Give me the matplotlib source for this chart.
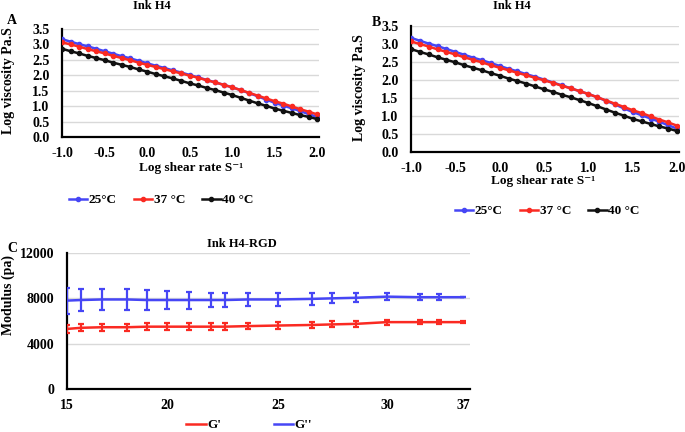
import numpy as np
import matplotlib
matplotlib.use("Agg")
import matplotlib.pyplot as plt
from matplotlib.lines import Line2D

# ---- data: viscosity curves (panels A and B share the same curves) ----
log_shear = [-1.0, -0.9, -0.8, -0.7, -0.6, -0.5, -0.4, -0.3, -0.2, -0.1, 0.0,
             0.1, 0.2, 0.3, 0.4, 0.5, 0.6, 0.7, 0.8, 0.9, 1.0,
             1.1, 1.2, 1.3, 1.4, 1.5, 1.6, 1.7, 1.8, 1.9, 2.0]
visc_25 = [3.17, 3.09, 3.01, 2.94, 2.86, 2.78, 2.70, 2.62, 2.55, 2.47, 2.39,
           2.31, 2.24, 2.16, 2.09, 2.01, 1.93, 1.85, 1.77, 1.69, 1.61,
           1.52, 1.42, 1.32, 1.21, 1.11, 1.02, 0.93, 0.84, 0.74, 0.65]
visc_37 = [3.07, 3.00, 2.93, 2.85, 2.78, 2.71, 2.63, 2.56, 2.49, 2.41, 2.34,
           2.27, 2.20, 2.13, 2.06, 1.99, 1.92, 1.84, 1.77, 1.69, 1.61,
           1.52, 1.43, 1.34, 1.25, 1.16, 1.08, 0.99, 0.90, 0.82, 0.73]
visc_40 = [2.86, 2.78, 2.71, 2.63, 2.56, 2.49, 2.41, 2.34, 2.27, 2.19, 2.12,
           2.04, 1.97, 1.90, 1.82, 1.74, 1.67, 1.59, 1.52, 1.44, 1.36,
           1.27, 1.18, 1.09, 1.01, 0.92, 0.85, 0.78, 0.71, 0.65, 0.58]
visc_labels = ["25°C", "37 °C", "40 °C"]

# ---- data: modulus vs temperature (panel C) ----
temp = [15, 15.7, 16.75, 18, 19, 20, 21, 22, 22.6, 23.65,
        25, 26.55, 27.5, 28.6, 30, 33, 34.8, 37]
g_prime = [5300, 5400, 5450, 5450, 5500, 5500, 5500, 5500, 5500, 5550,
           5600, 5650, 5700, 5750, 5900, 5900, 5900, 5900]
g_prime_err = [350, 300, 300, 300, 280, 280, 280, 280, 280, 270,
               270, 270, 270, 250, 230, 200, 180, 80]
g_dprime = [7800, 7850, 7900, 7900, 7850, 7850, 7850, 7850, 7850, 7900,
            7900, 7950, 8000, 8050, 8150, 8100, 8100, 8100]
g_dprime_err = [1150, 1000, 950, 900, 850, 800, 750, 650, 650, 600,
                550, 500, 450, 400, 300, 250, 250, 0]
temp_ticks = [15, 20, 25, 30, 37]

BLUE = "#4646f5"
RED = "#fa2a22"
BLACK = "#111111"
GRID = "#d9d9d9"
W, H = 685, 432
FS = 10

plt.rcParams["font.family"] = ["Liberation Serif", "DejaVu Serif"]
plt.rcParams["font.weight"] = "bold"
plt.rcParams["font.size"] = FS

fig = plt.figure(figsize=(W / 100, H / 100), dpi=100)


def px_axes(left, top, right, bottom):
    return fig.add_axes([left / W, 1 - bottom / H, (right - left) / W, (bottom - top) / H])


def px_text(x, y, s, **kw):
    fig.text(x / W, 1 - y / H, s, fontweight="bold", **kw)


def style(ax):
    for side in ("top", "right"):
        ax.spines[side].set_visible(False)
    for side in ("left", "bottom"):
        ax.spines[side].set_linewidth(1.6)
        ax.spines[side].set_color("black")
    ax.tick_params(axis="y", length=0, pad=9, labelsize=FS)
    ax.tick_params(axis="x", length=0, pad=7, labelsize=FS)
    ax.yaxis.grid(True, color=GRID, linewidth=1)
    ax.set_axisbelow(True)
    for lab in ax.get_xticklabels() + ax.get_yticklabels():
        lab.set_fontweight("bold")


def viscosity_panel(ax):
    series = [(visc_25, BLUE), (visc_37, RED), (visc_40, BLACK)]
    for vals, col in series:
        ax.plot(log_shear, vals, color=col, lw=1.8, marker="o", ms=3, zorder=3)
    ax.set_xlim(-1.0, 2.02)
    ax.set_ylim(0, 3.5)
    ax.set_xticks([-1.0, -0.5, 0.0, 0.5, 1.0, 1.5, 2.0])
    ax.set_xticklabels(["-1.0", "-0.5", "0.0", "0.5", "1.0", "1.5", "2.0"])
    ax.set_yticks(np.arange(0, 3.51, 0.5))
    ax.set_yticklabels([f"{v:.1f}" for v in np.arange(0, 3.51, 0.5)])
    style(ax)
    return [Line2D([], [], color=c, lw=1.8, marker="o", ms=3) for _, c in series]


legend_kw = dict(loc="center", ncol=3, frameon=False, handlelength=1.4,
                 handletextpad=0.1, columnspacing=1.3,
                 prop={"weight": "bold", "size": 9.5})

# ---- panel A ----
axA = px_axes(62, 29, 319, 137)
handles = viscosity_panel(axA)
px_text(191, 168, "Log shear rate S⁻¹", ha="center", va="center", fontsize=9.5)
px_text(9, 81, "Log viscosity Pa.S", ha="center", va="center", rotation=90, fontsize=FS)
px_text(152, 6, "Ink H4", ha="center", va="center", fontsize=9)
px_text(7, 21, "A", ha="left", va="center", fontsize=10)
fig.legend(handles, visc_labels, bbox_to_anchor=(161 / W, 1 - 200 / H), **legend_kw)

# ---- panel B ----
axB = px_axes(411, 26, 679, 152)
handles = viscosity_panel(axB)
px_text(543, 181, "Log shear rate S⁻¹", ha="center", va="center", fontsize=9.5)
px_text(360, 88, "Log viscosity Pa.S", ha="center", va="center", rotation=90, fontsize=FS)
px_text(512, 6, "Ink H4", ha="center", va="center", fontsize=9)
px_text(372, 22, "B", ha="left", va="center", fontsize=10)
fig.legend(handles, visc_labels, bbox_to_anchor=(547 / W, 1 - 211 / H), **legend_kw)

# ---- panel C: uneven temperature axis as drawn in the original ----
tick_px = [0, 100, 211, 320, 396, 430]
tick_t = [15, 20, 25, 30, 37, 40.13]


def fwd(t):
    return np.interp(t, tick_t, tick_px)


def inv(p):
    return np.interp(p, tick_px, tick_t)


axC = px_axes(67, 253, 470, 389)
axC.set_xscale("function", functions=(fwd, inv))
axC.errorbar(temp, g_prime, yerr=g_prime_err, color=RED, lw=1.8, elinewidth=1.6,
             capsize=2.2, capthick=1.6, zorder=3)
axC.errorbar(temp, g_dprime, yerr=g_dprime_err, color=BLUE, lw=1.8, elinewidth=1.6,
             capsize=2.2, capthick=1.6, zorder=3)
axC.set_xlim(15, 37.65)
axC.set_ylim(0, 12000)
axC.set_xticks(temp_ticks)
axC.set_xticklabels([str(t) for t in temp_ticks])
axC.set_yticks([0, 4000, 8000, 12000])
axC.set_yticklabels(["0", "4000", "8000", "12000"])
style(axC)
px_text(8, 295, "Modulus (pa)", ha="center", va="center", rotation=90, fontsize=FS)
px_text(242, 244, "Ink H4-RGD", ha="center", va="center", fontsize=9)
px_text(7, 248, "C", ha="left", va="center", fontsize=10)
handles = [Line2D([], [], color=RED, lw=1.8), Line2D([], [], color=BLUE, lw=1.8)]
fig.legend(handles, ["G'", "G''"], loc="center", bbox_to_anchor=(249 / W, 1 - 425 / H),
           ncol=2, frameon=False, handlelength=1.5, handletextpad=0.05,
           columnspacing=4.0, prop={"weight": "bold", "size": 9.5})

fig.savefig("out.png", dpi=100)
